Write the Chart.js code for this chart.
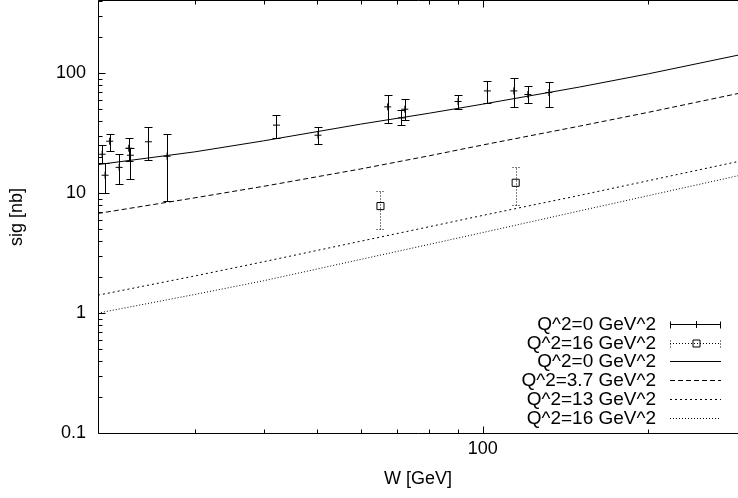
<!DOCTYPE html>
<html><head><meta charset="utf-8">
<script src="https://cdn.jsdelivr.net/npm/chart.js@4/dist/chart.umd.min.js"></script>
<style>html,body{margin:0;padding:0;background:#fff;overflow:hidden}#wrap{position:relative;width:738px;height:498px}</style>
</head><body><div id="wrap"><canvas id="c" width="738" height="498"></canvas></div>
<script>
// ---- data ----
const w0     = [20.35, 20.6, 21.0, 21.85, 22.75, 22.9, 24.7, 26.7, 42.2, 50.2, 67.2, 71.2, 72.2, 90.2, 102, 113.9, 120.8, 131.9];
const sig0   = [21.1, 14.1, 27.1, 16.4, 23.7, 20.7, 26.8, 20.3, 36.9, 30.4, 52.4, 42.4, 50.1, 58.1, 71.2, 71.2, 66.4, 69.0];
const sig0Lo = [17.8, 10.1, 22.4, 11.9, 18.5, 13.0, 18.8, 8.6, 28.9, 25.5, 38.5, 36.9, 40.6, 50.6, 56.5, 52.4, 56.5, 52.4];
const sig0Hi = [25.1, 17.7, 31.4, 21.0, 28.6, 23.9, 35.3, 31.0, 44.7, 35.3, 66.4, 49.8, 60.7, 66.4, 85.8, 91.4, 77.9, 84.6];
const w16     = [65.2, 114.8];
const sig16   = [7.8, 12.2];
const sig16Lo = [5.0, 7.9];
const sig16Hi = [10.5, 16.4];
const curveW    = [20, 30, 40, 60, 80, 100, 150, 200, 300];
const curveQ0   = [17.3, 22.1, 27.3, 37.6, 46.4, 55.2, 76.7, 98.8, 145.6];
const curveQ3p7 = [6.77, 9.14, 11.4, 15.9, 20.5, 25.2, 36.2, 47.2, 69.7];
const curveQ13  = [1.41, 2.04, 2.68, 3.97, 5.25, 6.52, 9.58, 12.7, 18.9];
const curveQ16  = [1.0, 1.43, 1.86, 2.80, 3.74, 4.69, 7.11, 9.53, 14.4];
const seriesLabels = ['Q^2=0 GeV^2', 'Q^2=16 GeV^2', 'Q^2=0 GeV^2', 'Q^2=3.7 GeV^2', 'Q^2=13 GeV^2', 'Q^2=16 GeV^2'];
const xMajorTicks = [100];
const xMinorTicks = [20, 30, 40, 50, 60, 70, 80, 90, 200, 300];
const yMajorTicks = [0.1, 1, 10, 100];
const yMinorTicks = [0.2,0.3,0.4,0.5,0.6,0.7,0.8,0.9, 2,3,4,5,6,7,8,9, 20,30,40,50,60,70,80,90, 200,300,400];
const xRange = [20, 291];
const yRange = [0.1, 400];

const FONT = '"Liberation Sans", Arial, Helvetica, sans-serif';
const pts = (xs, ys) => xs.map((v, i) => ({x: v, y: ys[i]}));

function drawErrorBars(ctx, xs, ys, xv, lo, hi, dash) {
  ctx.save();
  ctx.strokeStyle = '#000'; ctx.lineWidth = 1; ctx.setLineDash(dash);
  for (let i = 0; i < xv.length; i++) {
    const px = Math.round(xs.getPixelForValue(xv[i])) + 0.5;
    const pl = Math.round(ys.getPixelForValue(lo[i])) + 0.5;
    const ph = Math.round(ys.getPixelForValue(hi[i])) + 0.5;
    ctx.beginPath();
    ctx.moveTo(px, pl); ctx.lineTo(px, ph);
    ctx.moveTo(px - 4, pl); ctx.lineTo(px + 4, pl);
    ctx.moveTo(px - 4, ph); ctx.lineTo(px + 4, ph);
    ctx.stroke();
  }
  ctx.restore();
}

const gnuplotPlugin = {
  id: 'gnuplotLook',
  afterDatasetsDraw(chart) {
    const {ctx, chartArea: a, scales: {x, y}} = chart;
    ctx.save();
    ctx.beginPath(); ctx.rect(a.left, a.top, a.right - a.left, a.bottom - a.top); ctx.clip();
    drawErrorBars(ctx, x, y, w0, sig0Lo, sig0Hi, []);
    drawErrorBars(ctx, x, y, w16, sig16Lo, sig16Hi, [1, 2]);
    ctx.restore();
  },
  afterDraw(chart) {
    const {ctx, chartArea: a, scales: {x, y}} = chart;
    ctx.save();
    ctx.strokeStyle = '#000'; ctx.lineWidth = 1; ctx.setLineDash([]);
    const L = Math.round(a.left) + 0.5, B = Math.round(a.bottom) + 0.5, T = Math.round(a.top) - 0.5, R = a.right;
    ctx.beginPath();
    ctx.moveTo(L, T); ctx.lineTo(L, B); ctx.lineTo(R, B);
    ctx.moveTo(L, T); ctx.lineTo(R, T);
    const yt = (v, len) => { const p = Math.round(y.getPixelForValue(v)) + 0.5; ctx.moveTo(L, p); ctx.lineTo(L + len, p); };
    yMajorTicks.forEach(v => yt(v, 7));
    yMinorTicks.forEach(v => yt(v, 4));
    const xt = (v, len) => {
      if (v > xRange[1]) return;
      const p = Math.round(x.getPixelForValue(v)) + 0.5;
      ctx.moveTo(p, B); ctx.lineTo(p, B - len);
      ctx.moveTo(p, T); ctx.lineTo(p, T + len);
    };
    xMajorTicks.forEach(v => xt(v, 7));
    xMinorTicks.forEach(v => xt(v, 4));
    ctx.stroke();

    // key (legend), gnuplot style: right aligned text, sample to the right
    const ds = chart.data.datasets;
    const textRight = 656, s0 = 670, s1 = 721, sm = 696;
    ctx.font = '19px ' + FONT;
    ctx.fillStyle = '#000';
    ctx.textAlign = 'right';
    ctx.textBaseline = 'middle';
    ds.forEach((d, i) => {
      const ry = Math.round(324 + i * 18.7) + 0.5;
      ctx.fillText(d.label, textRight, ry);
      ctx.save();
      ctx.setLineDash(d.keyDash || []);
      ctx.beginPath();
      ctx.moveTo(s0, ry); ctx.lineTo(s1, ry);
      if (d.keyKind === 'err') {
        ctx.moveTo(s0 + 0.5, ry - 3); ctx.lineTo(s0 + 0.5, ry + 4);
        ctx.moveTo(s1 - 0.5, ry - 3); ctx.lineTo(s1 - 0.5, ry + 4);
      }
      ctx.stroke();
      ctx.setLineDash([]);
      if (d.keyKind === 'err') {
        ctx.beginPath();
        if (d.pointStyle === 'cross') {
          ctx.moveTo(sm - 3, ry); ctx.lineTo(sm + 3, ry);
          ctx.moveTo(sm + 0.5, ry - 3.5); ctx.lineTo(sm + 0.5, ry + 3.5);
        } else {
          ctx.rect(sm - 3, ry - 3.5, 7, 7);
        }
        ctx.stroke();
      }
      ctx.restore();
    });
    ctx.restore();
  }
};

const lineDs = (label, ys, dash) => ({
  type: 'line', label, data: pts(curveW, ys), borderColor: '#000', borderWidth: 1,
  borderDash: dash, pointRadius: 0, fill: false, tension: 0, showLine: true,
  keyKind: 'line', keyDash: dash
});

new Chart(document.getElementById('c'), {
  type: 'scatter',
  data: {
    datasets: [
      { label: seriesLabels[0], data: pts(w0, sig0), pointStyle: 'cross', pointRadius: 3.5,
        borderColor: '#000', backgroundColor: '#000', borderWidth: 1, showLine: false, keyKind: 'err', keyDash: [] },
      { label: seriesLabels[1], data: pts(w16, sig16), pointStyle: 'rect', pointRadius: 5,
        borderColor: '#000', backgroundColor: 'rgba(0,0,0,0)', borderWidth: 1, showLine: false, keyKind: 'err', keyDash: [1, 2] },
      lineDs(seriesLabels[2], curveQ0, []),
      lineDs(seriesLabels[3], curveQ3p7, [5, 3]),
      lineDs(seriesLabels[4], curveQ13, [2, 3]),
      lineDs(seriesLabels[5], curveQ16, [1, 2])
    ]
  },
  options: {
    responsive: false, animation: false, devicePixelRatio: 1,
    layout: { autoPadding: false, padding: { top: 1, left: 0, right: 0, bottom: 0 } },
    plugins: { legend: { display: false }, tooltip: { enabled: false } },
    scales: {
      x: {
        type: 'logarithmic', min: xRange[0], max: xRange[1], position: 'bottom',
        grid: { display: false, drawTicks: false }, border: { display: false },
        afterBuildTicks: s => { s.ticks = xMajorTicks.map(v => ({value: v})); },
        afterFit: s => { s.height = 65; s.paddingLeft = 0; s.paddingRight = 0; },
        ticks: { color: '#000', font: { family: FONT, size: 18 }, padding: 5, autoSkip: false, maxRotation: 0,
                 callback: v => xMajorTicks.includes(v) ? String(v) : '' },
        title: { display: true, text: 'W [GeV]', color: '#000', font: { family: FONT, size: 18 }, padding: { top: 0, bottom: 8 } }
      },
      y: {
        type: 'logarithmic', min: yRange[0], max: yRange[1], position: 'left',
        grid: { display: false, drawTicks: false }, border: { display: false },
        afterBuildTicks: s => { s.ticks = yMajorTicks.map(v => ({value: v})); },
        afterFit: s => { s.width = 98; s.paddingTop = 0; s.paddingBottom = 0; },
        ticks: { color: '#000', font: { family: FONT, size: 18 }, padding: 12, autoSkip: false,
                 callback: v => yMajorTicks.includes(v) ? String(v) : '' },
        title: { display: true, text: 'sig [nb]', color: '#000', font: { family: FONT, size: 18 }, padding: { top: 6, bottom: 0 } }
      }
    }
  },
  plugins: [gnuplotPlugin]
});
</script>
</body></html>
